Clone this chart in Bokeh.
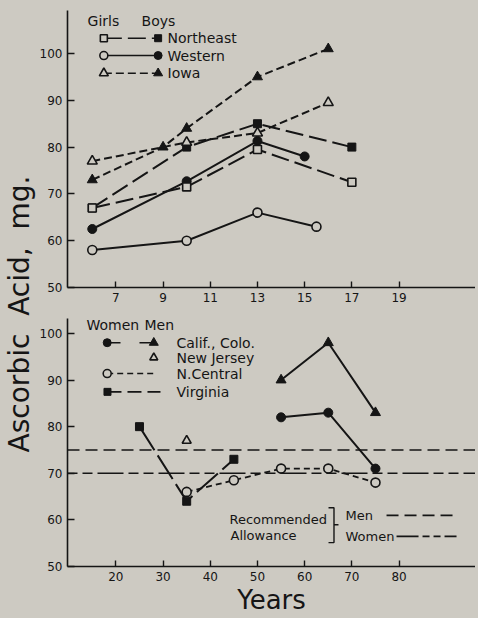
import math
from bokeh.plotting import figure
from bokeh.layouts import row, column
from bokeh.models import Label, Span, FixedTicker
from bokeh.embed import file_html
from bokeh.resources import INLINE

# ---------------- data ----------------
# Top panel: children, age in years
ne_age_girls = [6, 10, 13, 17]
ne_girls = [67, 71.5, 79.5, 72.5]
ne_age_boys = [6, 10, 13, 17]
ne_boys = [67, 80, 85, 80]
we_age_girls = [6, 10, 13, 15.5]
we_girls = [58, 60, 66, 63]
we_age_boys = [6, 10, 13, 15]
we_boys = [62.5, 72.7, 81.3, 78]
io_age_girls = [6, 10, 13, 16]
io_girls = [77, 81, 83, 89.5]
io_age_boys = [6, 9, 10, 13, 16]
io_boys = [73, 80, 84, 95, 101]
top_x_ticks = [7, 9, 11, 13, 15, 17, 19]

# Bottom panel: adults, age in years
cc_age = [55, 65, 75]
cc_women = [82, 83, 71]
cc_men = [90, 98, 83]
nj_age = [35]
nj_men = [77]
nc_age = [35, 45, 55, 65, 75]
nc_women = [66, 68.5, 71, 71, 68]
va_age = [25, 35, 45]
va_women = [80, 64, 73]
rec_men = 75
rec_women = 70
bottom_x_ticks = [20, 30, 40, 50, 60, 70, 80]
y_ticks = [50, 60, 70, 80, 90, 100]

# ---------------- style ----------------
BG = "#cdcac2"
INK = "#151515"
FONT = "DejaVu Sans"
NE_DASH = "18 6"
IO_DASH = "8 4"
NC_DASH = "6 4"
VA_DASH = "28 6"
MEN_DASH = "12 6"
WOMEN_DASH = "10 5 10 5 26 5"

LEFT_W = 36
MAIN_W = 439
TOP_H = 307
BOT_H = 310


def make_fig(xr, yr, h, top_b, bot_b, xticks):
    p = figure(width=MAIN_W, height=h, x_range=xr, y_range=yr, title=None,
               output_backend="svg", toolbar_location=None,
               min_border_left=31, min_border_right=0,
               min_border_top=top_b, min_border_bottom=bot_b,
               background_fill_color=BG, border_fill_color=BG,
               outline_line_color=None)
    p.grid.visible = False
    for ax in (p.xaxis[0], p.yaxis[0]):
        ax.axis_line_color = INK
        ax.axis_line_width = 1.6
        ax.major_tick_line_color = INK
        ax.major_tick_line_width = 1.4
        ax.major_tick_out = 0
        ax.minor_tick_line_color = None
        ax.major_label_text_font = FONT
        ax.major_label_text_font_size = "12px"
        ax.major_label_text_color = INK
    p.yaxis[0].major_tick_in = 7
    p.xaxis[0].major_tick_in = 6
    p.yaxis[0].ticker = FixedTicker(ticks=y_ticks)
    p.xaxis[0].ticker = FixedTicker(ticks=xticks)
    p.xaxis[0].major_label_standoff = 5
    p.yaxis[0].major_label_standoff = 5
    return p


def txt(p, x, y, s, size="13px", align="left", baseline="middle"):
    p.add_layout(Label(x=x, y=y, text=s, text_font=FONT, text_font_size=size,
                       text_color=INK, text_align=align, text_baseline=baseline))


def open_mk(p, x, y, marker, size):
    p.scatter(x, y, marker=marker, size=size, fill_color=BG,
              line_color=INK, line_width=1.6)


def fill_mk(p, x, y, marker, size):
    p.scatter(x, y, marker=marker, size=size, fill_color=INK,
              line_color=INK, line_width=1)


# ---------------- top panel ----------------
top = make_fig((4.95, 22.24), (50, 109.19), TOP_H, 10, 20, top_x_ticks)

top.line(ne_age_girls, ne_girls, line_color=INK, line_width=2, line_dash=NE_DASH)
top.line(ne_age_boys, ne_boys, line_color=INK, line_width=2, line_dash=NE_DASH)
top.line(we_age_girls, we_girls, line_color=INK, line_width=2)
top.line(we_age_boys, we_boys, line_color=INK, line_width=2)
top.line(io_age_girls, io_girls, line_color=INK, line_width=2, line_dash=IO_DASH)
top.line(io_age_boys, io_boys, line_color=INK, line_width=2, line_dash=IO_DASH)

fill_mk(top, ne_age_boys, ne_boys, "square", 8)
fill_mk(top, we_age_boys, we_boys, "circle", 9)
fill_mk(top, io_age_boys, io_boys, "triangle", 10)
open_mk(top, ne_age_girls, ne_girls, "square", 8)
open_mk(top, we_age_girls, we_girls, "circle", 9)
open_mk(top, io_age_girls, io_girls, "triangle", 10)

# legend (top)
txt(top, 5.80, 107.05, "Girls", "14px")
txt(top, 8.09, 107.05, "Boys", "14px")
leg_top = [("Northeast", 103.27, "square", NE_DASH, 7),
           ("Western", 99.57, "circle", "solid", 8),
           ("Iowa", 95.79, "triangle", IO_DASH, 9)]
for name, ly, mk, dash, sz in leg_top:
    top.line([6.49, 8.79], [ly, ly], line_color=INK, line_width=1.6, line_dash=dash)
    open_mk(top, [6.49], [ly], mk, sz)
    fill_mk(top, [8.79], [ly], mk, sz)
    txt(top, 9.19, ly, name, "14px")

# ---------------- bottom panel ----------------
bot = make_fig((9.75, 96.19), (50, 103.2), BOT_H, 11, 50, bottom_x_ticks)
bot.xaxis[0].axis_label = "Years"
bot.xaxis[0].axis_label_text_font = FONT
bot.xaxis[0].axis_label_text_font_size = "26px"
bot.xaxis[0].axis_label_text_font_style = "normal"
bot.xaxis[0].axis_label_text_color = INK
bot.xaxis[0].axis_label_standoff = 1

bot.add_layout(Span(location=rec_men, dimension="width", line_color=INK,
                    line_width=1.6, line_dash=MEN_DASH))
bot.add_layout(Span(location=rec_women, dimension="width", line_color=INK,
                    line_width=1.6, line_dash=WOMEN_DASH))

bot.line(cc_age, cc_women, line_color=INK, line_width=2)
bot.line(cc_age, cc_men, line_color=INK, line_width=2)
bot.line(nc_age, nc_women, line_color=INK, line_width=1.8, line_dash=NC_DASH)
bot.line(va_age, va_women, line_color=INK, line_width=2, line_dash=VA_DASH)

fill_mk(bot, cc_age, cc_women, "circle", 9)
fill_mk(bot, cc_age, cc_men, "triangle", 10)
open_mk(bot, nj_age, nj_men, "triangle", 9)
open_mk(bot, nc_age, nc_women, "circle", 9)
fill_mk(bot, va_age, va_women, "square", 8)

# legend (bottom)
txt(bot, 13.78, 101.7, "Women", "14px")
txt(bot, 26.06, 101.7, "Men", "14px")
bot.line([18.16, 20.98], [98.01, 98.01], line_color=INK, line_width=1.6)
fill_mk(bot, [18.16], [98.01], "circle", 8)
bot.line([25.0, 28.03], [98.01, 98.01], line_color=INK, line_width=1.6)
fill_mk(bot, [28.03], [98.01], "triangle", 9)
txt(bot, 32.84, 98.01, "Calif., Colo.", "14px")
open_mk(bot, [28.03], [94.81], "triangle", 8)
txt(bot, 32.84, 94.81, "New Jersey", "14px")
bot.line([18.16, 28.39], [91.39, 91.39], line_color=INK, line_width=1.4, line_dash=NC_DASH)
open_mk(bot, [18.16], [91.39], "circle", 8)
txt(bot, 32.84, 91.39, "N.Central", "14px")
bot.line([18.22, 29.45], [87.46, 87.46], line_color=INK, line_width=1.6, line_dash="14 6")
fill_mk(bot, [18.22], [87.46], "square", 7)
txt(bot, 32.84, 87.46, "Virginia", "14px")

# recommended allowance key
txt(bot, 44.07, 60.04, "Recommended", "13px")
txt(bot, 44.28, 56.62, "Allowance", "13px")
bot.line([65.05, 66.21, 66.21, 65.05], [62.6, 62.6, 55.13, 55.13], line_color=INK, line_width=1.4)
bot.line([66.21, 67.16], [58.97, 58.97], line_color=INK, line_width=1.4)
txt(bot, 68.65, 60.96, "Men", "13px")
bot.line([77.34, 91.53], [60.96, 60.96], line_color=INK, line_width=1.6, line_dash=MEN_DASH)
txt(bot, 68.65, 56.47, "Women", "13px")
bot.line([79.46, 92.17], [56.47, 56.47], line_color=INK, line_width=1.6, line_dash="22 4 7 4 7 4")

# ---------------- shared y-axis title ----------------
TOTAL_H = TOP_H + BOT_H
lab = figure(width=LEFT_W, height=TOTAL_H, x_range=(0, LEFT_W), y_range=(0, TOTAL_H),
             title=None, output_backend="svg", toolbar_location=None,
             x_axis_location=None, y_axis_location=None,
             min_border=0, background_fill_color=BG, border_fill_color=BG,
             outline_line_color=None)
lab.grid.visible = False
lab.add_layout(Label(x=19, y=TOTAL_H - 313.5,
                     text="Ascorbic\u00a0\u00a0Acid,\u00a0\u00a0mg.",
                     angle=math.pi / 2, text_font=FONT, text_font_size="28px",
                     text_color=INK, text_align="center", text_baseline="middle"))

layout = row(lab, column(top, bot))

html = file_html(layout, INLINE)
html = html.replace("</head>", "<style>body{background:%s;}</style></head>" % BG, 1)
open("out.html", "w").write(html)
